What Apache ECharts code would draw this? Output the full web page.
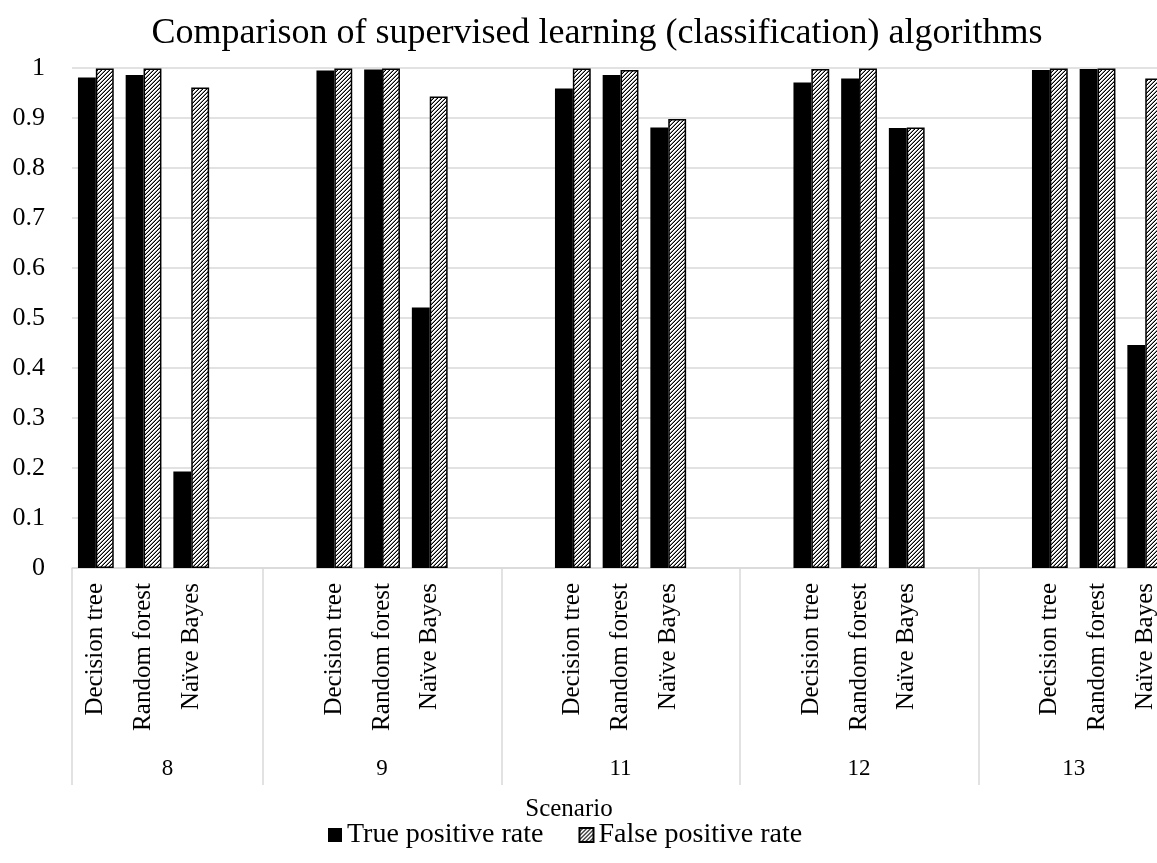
<!DOCTYPE html>
<html>
<head>
<meta charset="utf-8">
<title>Comparison of supervised learning (classification) algorithms</title>
<script src="https://cdn.jsdelivr.net/npm/echarts@6/dist/echarts.min.js"></script>
<style>
  html, body { margin: 0; padding: 0; background: #fff; }
  #chart { width: 1157px; height: 863px; }
</style>
</head>
<body>
<div id="chart"></div>
<script>
// Scenarios (outer category level) and algorithms (inner level)
const groups = ['8', '9', '11', '12', '13'];
const algorithms = ['Decision tree', 'Random forest', 'Naïve Bayes'];

// Rates per scenario, in algorithm order
const truePositiveRate = [
  [0.981, 0.986, 0.193],
  [0.995, 0.997, 0.521],
  [0.959, 0.986, 0.881],
  [0.971, 0.979, 0.880],
  [0.996, 0.998, 0.446]
];
const falsePositiveRate = [
  [0.999, 0.999, 0.961],
  [0.999, 0.999, 0.943],
  [0.999, 0.996, 0.898],
  [0.998, 0.999, 0.881],
  [0.999, 0.999, 0.979]
];

const seriesNames = ['True positive rate', 'False positive rate'];
const yTickLabels = ['0', '0.1', '0.2', '0.3', '0.4', '0.5', '0.6', '0.7', '0.8', '0.9', '1'];

// Flatten into one category axis, with an empty slot between scenarios
const categories = [];
const tprData = [];
const fprData = [];
const groupEdges = [0];
const groupCenters = [];
groups.forEach(function (g, gi) {
  const start = categories.length;
  if (gi > 0) { categories.push(''); tprData.push(null); fprData.push(null); }
  algorithms.forEach(function (a, ai) {
    categories.push(a);
    tprData.push(truePositiveRate[gi][ai]);
    fprData.push(falsePositiveRate[gi][ai]);
  });
  if (gi < groups.length - 1) { categories.push(''); tprData.push(null); fprData.push(null); }
  groupEdges.push(categories.length);
  groupCenters.push((start + categories.length) / 2);
});

// Diagonal hatch fill
function hatchPattern() {
  const c = document.createElement('canvas');
  c.width = 4; c.height = 4;
  const ctx = c.getContext('2d');
  ctx.fillStyle = '#ffffff';
  ctx.fillRect(0, 0, 4, 4);
  for (let x = 0; x < 4; x++) {
    for (let y = 0; y < 4; y++) {
      const k = (x + y) % 4;
      if (k === 3) { ctx.fillStyle = '#000000'; ctx.fillRect(x, y, 1, 1); }
      else if (k === 2) { ctx.fillStyle = '#8a8a8a'; ctx.fillRect(x, y, 1, 1); }
    }
  }
  return c;
}

const FONT = '"Liberation Serif", "Times New Roman", serif';
const GRID_COLOR = '#d9d9d9';
const slot = 47.7;

const chart = echarts.init(document.getElementById('chart'), null, { renderer: 'canvas' });

chart.setOption({
  animation: false,
  backgroundColor: '#ffffff',
  textStyle: { fontFamily: FONT, color: '#000' },
  title: [
    {
      text: 'Comparison of supervised learning (classification) algorithms',
      left: 592, top: 11, textAlign: 'center',
      textStyle: { fontFamily: FONT, fontSize: 36, fontWeight: 'normal', color: '#000' }
    },
    {
      text: 'Scenario',
      left: 564, top: 792, textAlign: 'center',
      textStyle: { fontFamily: FONT, fontSize: 25, fontWeight: 'normal', color: '#000' }
    }
  ],
  legend: {
    data: seriesNames,
    left: 323, top: 816,
    itemWidth: 14, itemHeight: 14, itemGap: 35,
    icon: 'rect',
    textStyle: { fontFamily: FONT, fontSize: 28, color: '#000' }
  },
  grid: {
    left: 72, top: 68, width: slot * categories.length, height: 500,
    containLabel: false, outerBoundsMode: 'none'
  },
  xAxis: [
    {
      type: 'category',
      data: categories,
      axisLine: { show: true, lineStyle: { color: GRID_COLOR, width: 1.5 } },
      axisTick: { show: false },
      axisLabel: {
        interval: 0, rotate: 90, margin: 15,
        fontFamily: FONT, fontSize: 25, color: '#000'
      },
      splitLine: { show: false }
    },
    {
      // Scenario level: separators and scenario names
      type: 'value',
      min: 0, max: categories.length,
      position: 'bottom',
      offset: 217,
      axisLine: { show: false },
      splitLine: { show: false },
      axisTick: {
        show: true, inside: true, length: 217,
        customValues: groupEdges,
        lineStyle: { color: GRID_COLOR, width: 1.5 }
      },
      axisLabel: {
        show: true, inside: true, margin: 5,
        customValues: groupCenters,
        formatter: function (v) {
          const i = groupCenters.indexOf(v);
          return i >= 0 ? groups[i] : '';
        },
        fontFamily: FONT, fontSize: 23, color: '#000'
      }
    }
  ],
  yAxis: {
    type: 'value',
    min: 0, max: 1, interval: 0.1,
    axisLine: { show: false },
    axisTick: { show: false },
    axisLabel: {
      margin: 27,
      fontFamily: FONT, fontSize: 26, color: '#000',
      formatter: function (v) { return yTickLabels[Math.round(v * 10)]; }
    },
    splitLine: { show: true, lineStyle: { color: GRID_COLOR, width: 1.5 } }
  },
  series: [
    {
      name: seriesNames[0],
      type: 'bar',
      xAxisIndex: 0,
      data: tprData,
      barGap: '0%',
      barCategoryGap: '25%',
      itemStyle: { color: '#000000' }
    },
    {
      name: seriesNames[1],
      type: 'bar',
      xAxisIndex: 0,
      data: fprData,
      barGap: '0%',
      barCategoryGap: '25%',
      itemStyle: {
        color: { image: hatchPattern(), repeat: 'repeat' },
        borderColor: '#000000',
        borderWidth: 1.5
      }
    }
  ]
});
</script>
</body>
</html>
